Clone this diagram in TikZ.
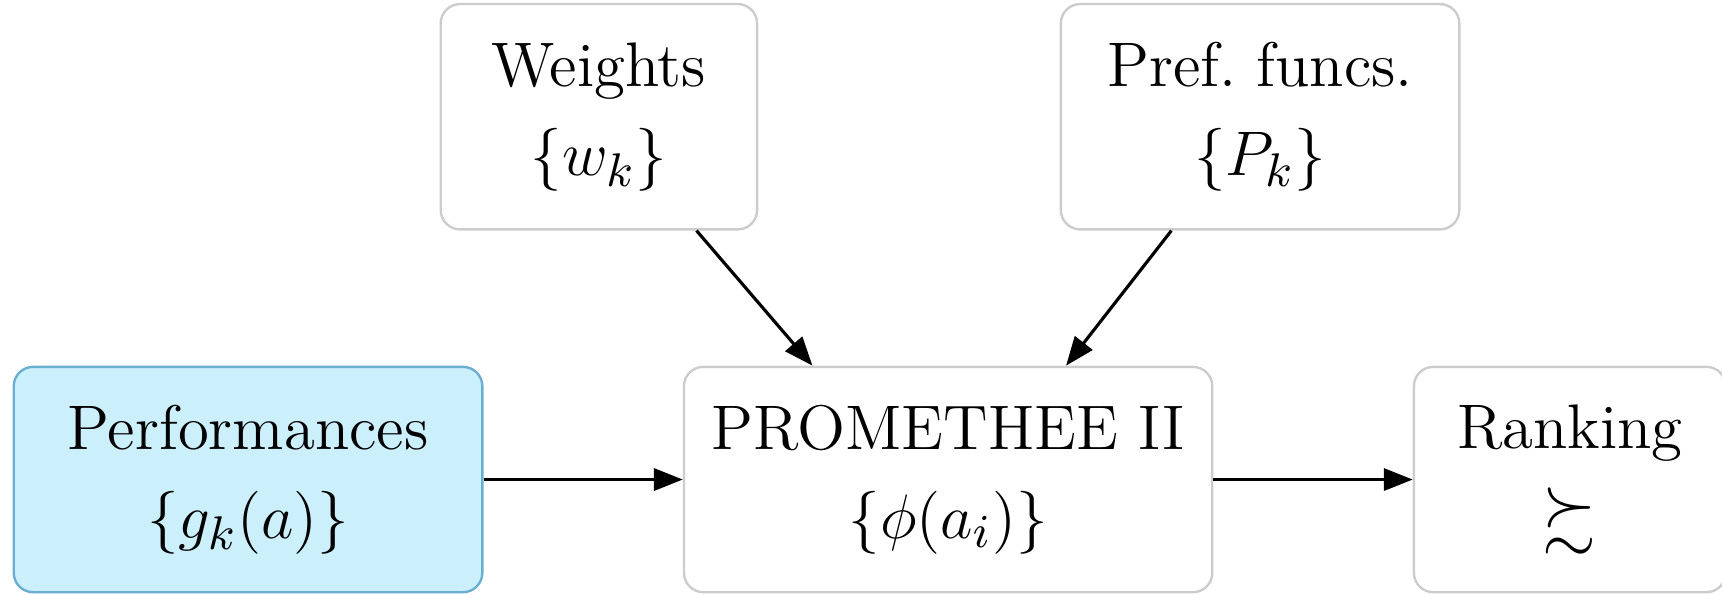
\documentclass[tikz,border=0pt]{standalone}
\usepackage{tikz}
\usetikzlibrary{arrows.meta,positioning}
\usepackage{amsmath,amssymb}
\usepackage{xcolor}
\definecolor{perffill}{HTML}{CCEFFC}
\definecolor{perfline}{HTML}{6AAFCF}
\definecolor{boxline}{HTML}{CCCCCC}
\newcommand{\bigmath}[1]{{\fontsize{13.2}{17}\selectfont$#1$}}

\begin{document}
\begin{tikzpicture}[
  node distance=0.905cm and 1.335cm,
  blk/.style={draw=boxline,line width=0.45pt,fill=white,rounded corners=0.13cm,minimum height=1.51cm,align=center,font=\fontsize{12}{17}\selectfont,inner xsep=2pt},
  arr/.style={-{Triangle[length=5.5pt,width=4.2pt]},line width=0.6pt}
]
\useasboundingbox (-1.662,-0.767) rectangle (9.876,3.213);
\node[blk,fill=perffill,draw=perfline,minimum width=3.14cm] (perf) at (0,0) {Performances\\\bigmath{\{g_k(a)\}}};
\node[blk,minimum width=3.54cm,right=of perf] (prom) {PROMETHEE II\\\bigmath{\{\phi(a_i)\}}};
\node[blk,minimum width=2.09cm,right=of prom] (rank) {Ranking\\\bigmath{\succsim}};
\node[blk,minimum width=2.12cm,above=of prom,xshift=-2.34cm] (wts) {Weights\\\bigmath{\{w_k\}}};
\node[blk,minimum width=2.67cm,above=of prom,xshift=2.09cm] (pref) {Pref.\ funcs.\\\bigmath{\{P_k\}}};

\draw[arr] (perf) -- (prom);
\draw[arr] (prom) -- (rank);
\draw[arr] (wts) -- (prom.140);
\draw[arr] (pref) -- (prom.44);
\end{tikzpicture}
\end{document}
